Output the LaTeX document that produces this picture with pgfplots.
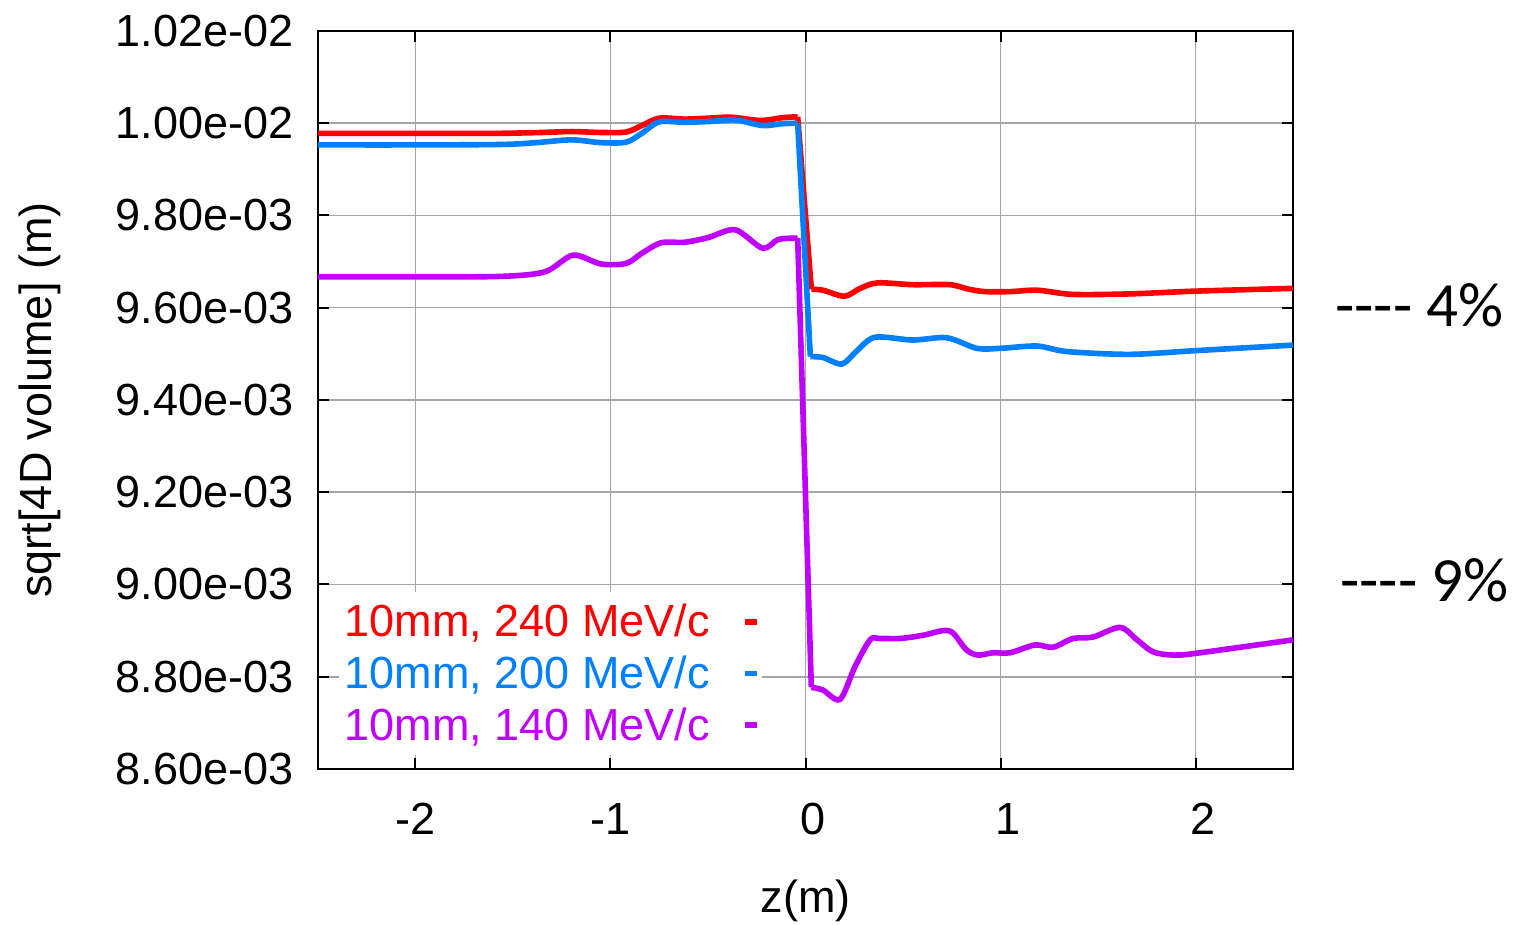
\documentclass[border=0pt]{standalone}
\usepackage{fontspec}
\setmainfont{Liberation Sans}
\newfontfamily\calibri{Carlito}
\usepackage{pgfplots}
\pgfplotsset{compat=1.18}
\definecolor{gpred}{RGB}{255,0,0}
\definecolor{gpblue}{RGB}{0,128,255}
\definecolor{gpmagenta}{RGB}{192,0,255}
\newcommand{\lblfont}{\fontsize{22.5bp}{27bp}\selectfont}

\begin{document}
\begin{tikzpicture}
\path[use as bounding box] (-159bp,-78bp) rectangle (602.5bp,384.5bp);
\begin{axis}[
  scale only axis, width=487.5bp, height=369bp,
  xmin=-2.5, xmax=2.5, ymin=0.0086, ymax=0.0102,
  clip=false,
  xtick={-2,-1,0,1,2},
  xticklabels={-2,-1,\phantom{-}0,\phantom{-}1,\phantom{-}2},
  ytick={0.0086,0.0088,0.009,0.0092,0.0094,0.0096,0.0098,0.01,0.0102},
  yticklabels={8.60e-03,8.80e-03,9.00e-03,9.20e-03,9.40e-03,9.60e-03,9.80e-03,1.00e-02,1.02e-02},
  scaled y ticks=false,
  grid=major,
  grid style={color=black!35, line width=0.75bp},
  axis line style={line width=1bp},
  tick style={black, line width=1bp},
  tick align=inside, major tick length=5.5bp,
  tick label style={font=\lblfont},
  yticklabel style={anchor=east, inner sep=0pt, xshift=-12bp},
  xticklabel style={anchor=north, inner sep=0pt, yshift=-17bp},
  xlabel={z(m)},
  ylabel={sqrt[4D volume] (m)},
  label style={font=\lblfont},
  xlabel style={at={(axis description cs:0.5,0)}, anchor=north, inner sep=0pt, yshift=-55bp},
  ylabel style={at={(axis description cs:-0.285,0.5)}, anchor=center, inner sep=0pt},
  legend plot pos=right,
  legend cell align=left,
  legend image code/.code={\draw[#1] (0bp,0bp) -- (6bp,0bp);},
  legend style={at={(rel axis cs:0.021,0.24)}, anchor=north west,
    draw=none, fill=white, inner xsep=1bp, inner ysep=4bp,
    font=\lblfont, column sep=14bp, row sep=4bp},
  every axis plot/.append style={line width=2.8bp},
]
% 240 MeV/c
\addplot[gpred, smooth, forget plot] coordinates {
 (-2.5,0.009978) (-2.0,0.009978) (-1.6,0.009978) (-1.35,0.009980) (-1.2,0.009982)
 (-1.05,0.009980) (-0.92,0.009981) (-0.84,0.009995) (-0.75,0.010011) (-0.62,0.010009)
 (-0.5,0.010011) (-0.38,0.010013) (-0.23,0.010006) (-0.12,0.010012) (-0.04,0.010014)};
\addplot[gpred, forget plot] coordinates {(-0.04,0.010014) (0.03,0.009640)};
\addplot[gpred, smooth] coordinates {
 (0.03,0.009640) (0.09,0.009638) (0.2,0.009625) (0.28,0.009642) (0.37,0.009654)
 (0.55,0.009650) (0.74,0.009650) (0.84,0.009640) (0.92,0.009635) (1.05,0.009635)
 (1.19,0.009638) (1.37,0.009629) (1.66,0.009630) (2.0,0.009636) (2.5,0.009642)};
\addlegendentry{\textcolor{gpred}{10mm, 240 MeV/c}}
% 200 MeV/c
\addplot[gpblue, smooth, forget plot] coordinates {
 (-2.5,0.009953) (-2.0,0.009953) (-1.56,0.009954) (-1.38,0.009958) (-1.2,0.009964)
 (-1.05,0.009958) (-0.92,0.009959) (-0.84,0.009978) (-0.75,0.010003) (-0.62,0.010002)
 (-0.48,0.010004) (-0.36,0.010007) (-0.22,0.009995) (-0.12,0.009999) (-0.04,0.010000)};
\addplot[gpblue, forget plot] coordinates {(-0.04,0.010000) (0.025,0.009494)};
\addplot[gpblue, smooth] coordinates {
 (0.025,0.009494) (0.09,0.009492) (0.187,0.009478) (0.26,0.009505) (0.356,0.009536)
 (0.55,0.009530) (0.724,0.009535) (0.879,0.009512) (1.0,0.009512) (1.187,0.009517)
 (1.341,0.009505) (1.664,0.009499) (2.0,0.009507) (2.5,0.009519)};
\addlegendentry{\textcolor{gpblue}{10mm, 200 MeV/c}}
% 140 MeV/c
\addplot[gpmagenta, smooth, forget plot] coordinates {
 (-2.5,0.009667) (-2.0,0.009667) (-1.56,0.009668) (-1.336,0.009678) (-1.192,0.009714)
 (-1.05,0.009695) (-0.92,0.009696) (-0.84,0.009718) (-0.74,0.009741) (-0.62,0.009742)
 (-0.5,0.009752) (-0.36,0.009769) (-0.22,0.009729) (-0.14,0.009748) (-0.04,0.009751)};
\addplot[gpmagenta, forget plot] coordinates {(-0.04,0.009751) (0.03,0.008777)};
\addplot[gpmagenta, smooth] coordinates {
 (0.03,0.008777) (0.09,0.008771) (0.177,0.008751) (0.254,0.008822) (0.331,0.008880)
 (0.382,0.008883) (0.485,0.008883) (0.603,0.008890) (0.705,0.008900) (0.756,0.008895)
 (0.826,0.008858) (0.885,0.008847) (0.962,0.008852) (1.049,0.008852) (1.177,0.008869)
 (1.269,0.008864) (1.372,0.008883) (1.474,0.008886) (1.613,0.008907) (1.70,0.008880)
 (1.782,0.008854) (1.885,0.008847) (2.006,0.008851) (2.5,0.008880)};
\addlegendentry{\textcolor{gpmagenta}{10mm, 140 MeV/c}}
% relative changes
\node[font=\calibri\fontsize{31.5bp}{36bp}\selectfont, anchor=west, inner sep=0pt]
  at (axis cs:2.715,0.009606) {{-}{-}{-}{-} 4\%};
\node[font=\calibri\fontsize{31.5bp}{36bp}\selectfont, anchor=west, inner sep=0pt]
  at (axis cs:2.741,0.009010) {{-}{-}{-}{-} 9\%};
\end{axis}
\end{tikzpicture}
\end{document}
